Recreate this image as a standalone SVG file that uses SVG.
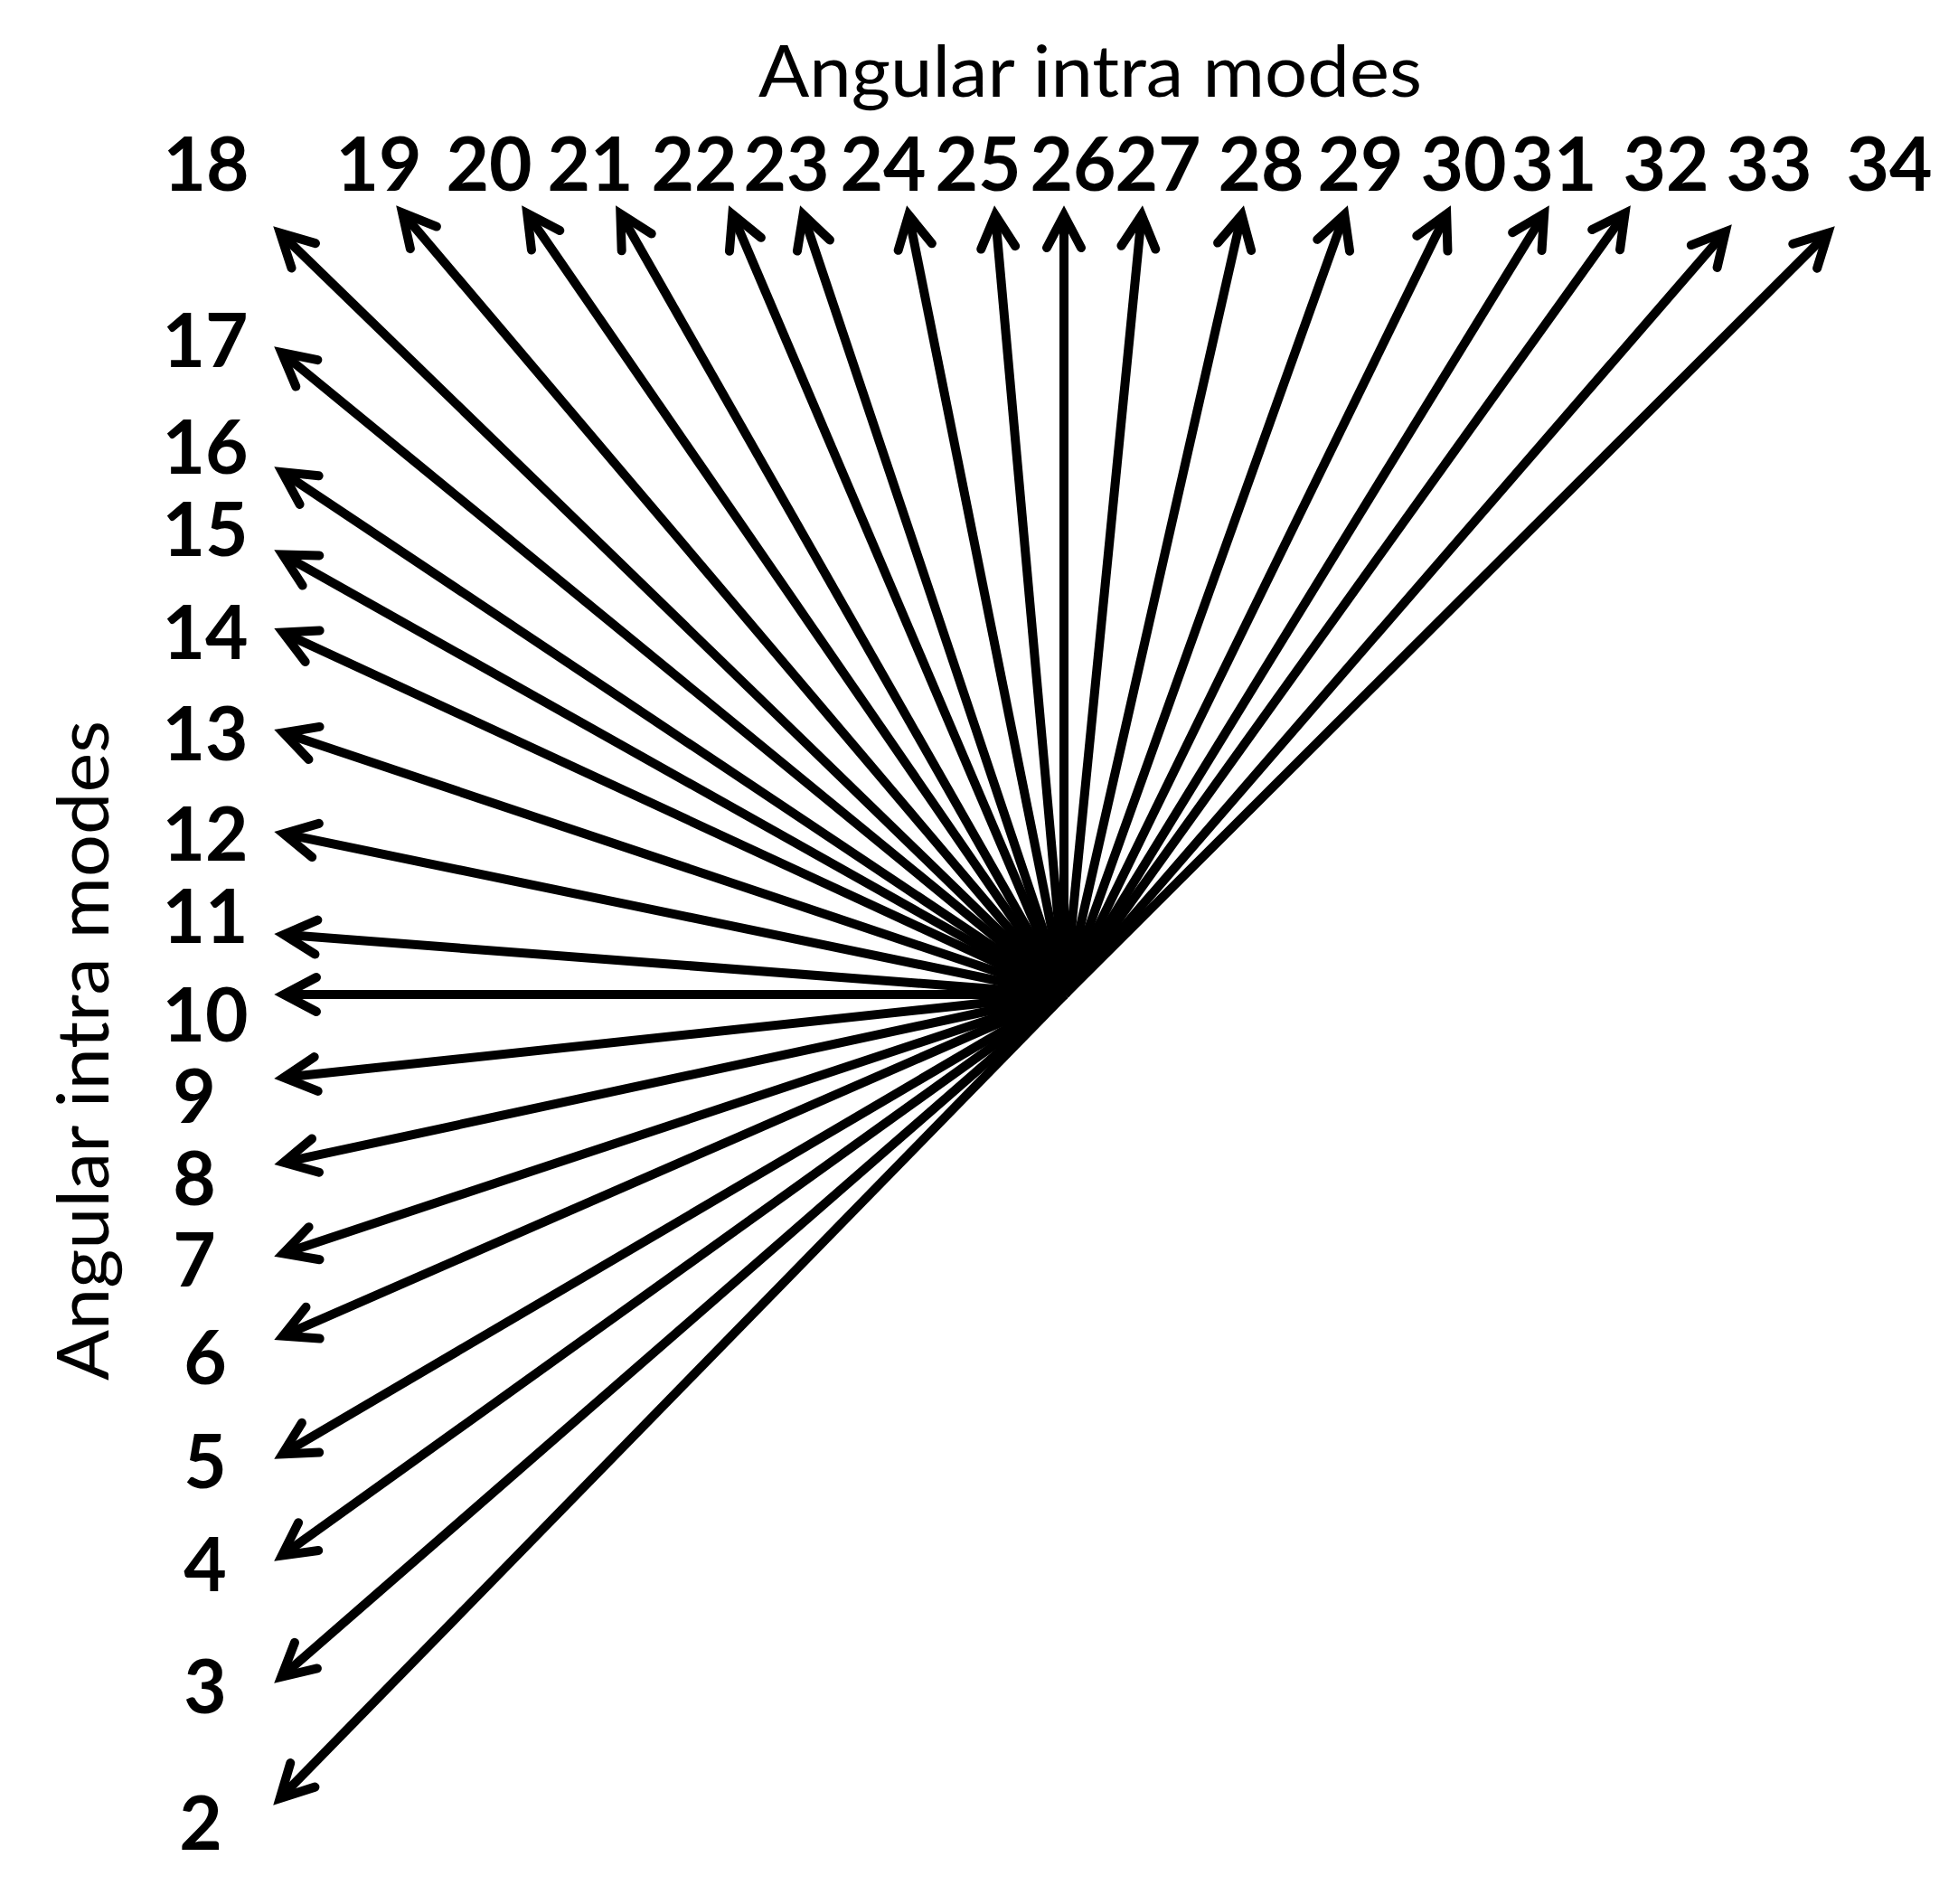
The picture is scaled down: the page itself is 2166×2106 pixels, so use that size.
<svg xmlns="http://www.w3.org/2000/svg" width="2166" height="2106" viewBox="0 0 2166 2106">
<style>
.num{font-family:Lato,"Liberation Sans",sans-serif;font-weight:700;font-size:82px;fill:#000;text-anchor:middle}
.title{font-family:Lato,"Liberation Sans",sans-serif;font-weight:400;font-size:80px;fill:#000}
.arr{stroke:#000;stroke-width:10;fill:none;marker-end:url(#ah)}
</style>
<defs>
<marker id="ah" markerUnits="userSpaceOnUse" orient="auto" markerWidth="80" markerHeight="80" viewBox="-60 -40 80 80" refX="0" refY="0" style="overflow:visible">
<path d="M-36,-19 L0,0 L-36,19" fill="none" stroke="#000" stroke-width="10" stroke-linecap="round" stroke-linejoin="miter"/>
</marker>
</defs>
<rect width="2166" height="2106" fill="#fff"/>
<g id="title-top"><text class="title" x="839" y="107" textLength="734" lengthAdjust="spacingAndGlyphs">Angular intra modes</text></g>
<g id="title-left"><text class="title" transform="translate(120,1527) rotate(-90)" x="0" y="0" textLength="730" lengthAdjust="spacingAndGlyphs">Angular intra modes</text></g>
<g id="connectors">
<line class="arr" x1="1178" y1="1100" x2="309.9" y2="257.7"/>
<line class="arr" x1="1178" y1="1100" x2="445.1" y2="235.4"/>
<line class="arr" x1="1178" y1="1100" x2="583.2" y2="236.1"/>
<line class="arr" x1="1178" y1="1100" x2="686.4" y2="236.6"/>
<line class="arr" x1="1178" y1="1100" x2="810.3" y2="237.1"/>
<line class="arr" x1="1178" y1="1100" x2="888.5" y2="237.4"/>
<line class="arr" x1="1178" y1="1100" x2="1005.2" y2="237.8"/>
<line class="arr" x1="1178" y1="1100" x2="1101" y2="238"/>
<line class="arr" x1="1177" y1="1100" x2="1177" y2="238"/>
<line class="arr" x1="1178" y1="1100" x2="1262.9" y2="237.9"/>
<line class="arr" x1="1178" y1="1100" x2="1373.6" y2="237.7"/>
<line class="arr" x1="1178" y1="1100" x2="1487.3" y2="237.4"/>
<line class="arr" x1="1178" y1="1100" x2="1600.2" y2="236.9"/>
<line class="arr" x1="1178" y1="1100" x2="1708.2" y2="236.4"/>
<line class="arr" x1="1178" y1="1100" x2="1797.6" y2="235.9"/>
<line class="arr" x1="1178" y1="1100" x2="1908.8" y2="256.3"/>
<line class="arr" x1="1178" y1="1100" x2="2022.2" y2="257.8"/>
<line class="arr" x1="1178" y1="1100" x2="311.5" y2="390"/>
<line class="arr" x1="1178" y1="1100" x2="312.2" y2="522.1"/>
<line class="arr" x1="1178" y1="1100" x2="312.6" y2="613.4"/>
<line class="arr" x1="1178" y1="1100" x2="313" y2="699.6"/>
<line class="arr" x1="1178" y1="1100" x2="313.4" y2="810.5"/>
<line class="arr" x1="1178" y1="1100" x2="313.8" y2="922.2"/>
<line class="arr" x1="1178" y1="1100" x2="314" y2="1033.8"/>
<line class="arr" x1="1178" y1="1100" x2="314" y2="1100"/>
<line class="arr" x1="1178" y1="1100" x2="313.9" y2="1191.8"/>
<line class="arr" x1="1178" y1="1100" x2="313.8" y2="1285.7"/>
<line class="arr" x1="1178" y1="1100" x2="313.4" y2="1386.5"/>
<line class="arr" x1="1178" y1="1100" x2="313.1" y2="1477.6"/>
<line class="arr" x1="1178" y1="1100" x2="312.5" y2="1608.4"/>
<line class="arr" x1="1178" y1="1100" x2="311.9" y2="1720.6"/>
<line class="arr" x1="1178" y1="1100" x2="311.3" y2="1854.8"/>
<line class="arr" x1="1178" y1="1100" x2="309.7" y2="1989.1"/>
</g>
<g id="mode-18"><text class="num" x="228" y="211">18</text></g>
<g id="mode-19"><text class="num" x="419" y="211">19</text></g>
<g id="mode-20"><text class="num" x="541" y="211">20</text></g>
<g id="mode-21"><text class="num" x="653" y="211">21</text></g>
<g id="mode-22"><text class="num" x="768" y="211">22</text></g>
<g id="mode-23"><text class="num" x="870" y="211">23</text></g>
<g id="mode-24"><text class="num" x="977" y="211">24</text></g>
<g id="mode-25"><text class="num" x="1082" y="211">25</text></g>
<g id="mode-26"><text class="num" x="1187" y="211">26</text></g>
<g id="mode-27"><text class="num" x="1281" y="211">27</text></g>
<g id="mode-28"><text class="num" x="1395" y="211">28</text></g>
<g id="mode-29"><text class="num" x="1505" y="211">29</text></g>
<g id="mode-30"><text class="num" x="1619" y="211">30</text></g>
<g id="mode-31"><text class="num" x="1719" y="211">31</text></g>
<g id="mode-32"><text class="num" x="1843" y="211">32</text></g>
<g id="mode-33"><text class="num" x="1957" y="211">33</text></g>
<g id="mode-34"><text class="num" x="2090" y="211">34</text></g>
<g id="mode-17"><text class="num" x="227" y="406">17</text></g>
<g id="mode-16"><text class="num" x="227" y="524">16</text></g>
<g id="mode-15"><text class="num" x="227" y="615">15</text></g>
<g id="mode-14"><text class="num" x="227" y="729">14</text></g>
<g id="mode-13"><text class="num" x="227" y="841">13</text></g>
<g id="mode-12"><text class="num" x="227" y="952">12</text></g>
<g id="mode-11"><text class="num" x="227" y="1043">11</text></g>
<g id="mode-10"><text class="num" x="227" y="1152">10</text></g>
<g id="mode-9"><text class="num" x="215" y="1242">9</text></g>
<g id="mode-8"><text class="num" x="215" y="1333">8</text></g>
<g id="mode-7"><text class="num" x="215" y="1423">7</text></g>
<g id="mode-6"><text class="num" x="227" y="1531">6</text></g>
<g id="mode-5"><text class="num" x="227" y="1646">5</text></g>
<g id="mode-4"><text class="num" x="227" y="1760">4</text></g>
<g id="mode-3"><text class="num" x="227" y="1895">3</text></g>
<g id="mode-2"><text class="num" x="222" y="2046">2</text></g>
</svg>
